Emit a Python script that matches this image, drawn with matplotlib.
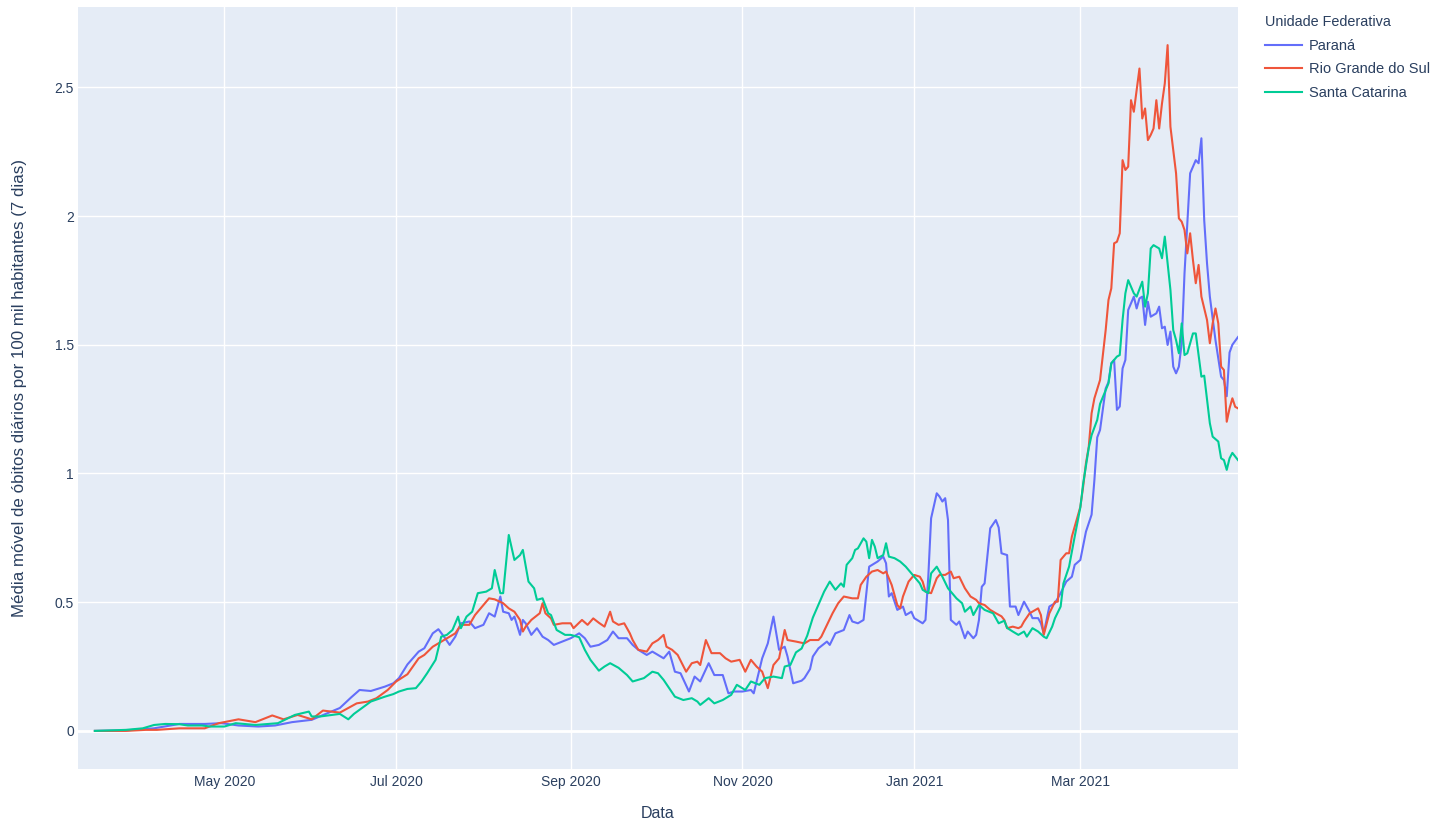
import matplotlib
matplotlib.use("Agg")
import matplotlib.pyplot as plt
import matplotlib.dates as mdates
from matplotlib.ticker import FuncFormatter, FixedLocator
import pandas as pd

plt.rcParams['font.family'] = ['Liberation Sans', 'DejaVu Sans']

# ---------------- data ----------------
pr_dates = ["2020-03-16", "2020-03-27", "2020-04-06", "2020-04-15", "2020-04-24", "2020-04-30",
            "2020-05-06", "2020-05-13", "2020-05-19", "2020-05-25", "2020-06-01", "2020-06-08",
            "2020-06-11", "2020-06-15", "2020-06-18", "2020-06-22", "2020-06-27", "2020-06-30",
            "2020-07-02", "2020-07-05", "2020-07-09", "2020-07-11", "2020-07-14", "2020-07-16",
            "2020-07-18", "2020-07-20", "2020-07-22", "2020-07-24", "2020-07-27", "2020-07-29",
            "2020-08-01", "2020-08-03", "2020-08-05", "2020-08-07", "2020-08-08", "2020-08-10",
            "2020-08-11", "2020-08-12", "2020-08-14", "2020-08-15", "2020-08-16", "2020-08-18",
            "2020-08-20", "2020-08-22", "2020-08-24", "2020-08-26", "2020-08-29", "2020-09-01",
            "2020-09-04", "2020-09-06", "2020-09-08", "2020-09-11", "2020-09-14", "2020-09-16",
            "2020-09-18", "2020-09-21", "2020-09-23", "2020-09-25", "2020-09-28", "2020-09-30",
            "2020-10-02", "2020-10-04", "2020-10-06", "2020-10-08", "2020-10-10", "2020-10-13",
            "2020-10-15", "2020-10-17", "2020-10-20", "2020-10-22", "2020-10-25", "2020-10-27",
            "2020-10-29", "2020-11-01", "2020-11-04", "2020-11-05", "2020-11-08", "2020-11-10",
            "2020-11-12", "2020-11-14", "2020-11-16", "2020-11-17", "2020-11-19", "2020-11-22",
            "2020-11-23", "2020-11-25", "2020-11-26", "2020-11-28", "2020-12-01", "2020-12-02",
            "2020-12-04", "2020-12-07", "2020-12-09", "2020-12-10", "2020-12-12", "2020-12-14",
            "2020-12-15", "2020-12-16", "2020-12-19", "2020-12-21", "2020-12-22", "2020-12-23",
            "2020-12-24", "2020-12-26", "2020-12-28", "2020-12-29", "2020-12-31", "2021-01-01",
            "2021-01-04", "2021-01-05", "2021-01-06", "2021-01-07", "2021-01-09", "2021-01-10",
            "2021-01-11", "2021-01-12", "2021-01-13", "2021-01-14", "2021-01-16", "2021-01-17",
            "2021-01-19", "2021-01-20", "2021-01-22", "2021-01-23", "2021-01-24", "2021-01-25",
            "2021-01-26", "2021-01-28", "2021-01-30", "2021-01-31", "2021-02-01", "2021-02-03",
            "2021-02-04", "2021-02-06", "2021-02-07", "2021-02-09", "2021-02-11", "2021-02-12",
            "2021-02-14", "2021-02-15", "2021-02-16", "2021-02-18", "2021-02-20", "2021-02-22",
            "2021-02-24", "2021-02-26", "2021-02-27", "2021-03-01", "2021-03-03", "2021-03-05",
            "2021-03-06", "2021-03-07", "2021-03-08", "2021-03-10", "2021-03-11", "2021-03-12",
            "2021-03-13", "2021-03-14", "2021-03-15", "2021-03-16", "2021-03-17", "2021-03-18",
            "2021-03-20", "2021-03-21", "2021-03-22", "2021-03-23", "2021-03-24", "2021-03-25",
            "2021-03-26", "2021-03-28", "2021-03-29", "2021-03-30", "2021-03-31", "2021-04-01",
            "2021-04-02", "2021-04-03", "2021-04-04", "2021-04-05", "2021-04-06", "2021-04-07",
            "2021-04-08", "2021-04-09", "2021-04-11", "2021-04-12", "2021-04-13", "2021-04-14",
            "2021-04-15", "2021-04-16", "2021-04-17", "2021-04-18", "2021-04-20", "2021-04-21",
            "2021-04-22", "2021-04-23", "2021-04-24", "2021-04-26"]
pr_values = [0.000, 0.002, 0.010, 0.027, 0.027, 0.030,
             0.021, 0.017, 0.021, 0.034, 0.043, 0.075,
             0.089, 0.130, 0.159, 0.155, 0.172, 0.185,
             0.205, 0.258, 0.308, 0.321, 0.379, 0.395,
             0.366, 0.334, 0.366, 0.418, 0.425, 0.399,
             0.412, 0.457, 0.444, 0.522, 0.463, 0.457,
             0.431, 0.444, 0.373, 0.431, 0.418, 0.373,
             0.399, 0.366, 0.353, 0.334, 0.347, 0.360,
             0.379, 0.360, 0.327, 0.334, 0.353, 0.386,
             0.360, 0.360, 0.334, 0.315, 0.295, 0.308,
             0.295, 0.282, 0.308, 0.230, 0.224, 0.153,
             0.211, 0.192, 0.263, 0.217, 0.217, 0.146,
             0.153, 0.153, 0.159, 0.146, 0.282, 0.340,
             0.444, 0.315, 0.327, 0.289, 0.185, 0.195,
             0.205, 0.240, 0.289, 0.321, 0.347, 0.334,
             0.379, 0.392, 0.450, 0.425, 0.418, 0.431,
             0.535, 0.638, 0.658, 0.677, 0.651, 0.522,
             0.535, 0.470, 0.483, 0.450, 0.463, 0.438,
             0.418, 0.431, 0.599, 0.826, 0.923, 0.910,
             0.891, 0.904, 0.819, 0.431, 0.412, 0.425,
             0.360, 0.386, 0.360, 0.373, 0.431, 0.560,
             0.573, 0.787, 0.819, 0.790, 0.690, 0.683,
             0.483, 0.483, 0.450, 0.502, 0.463, 0.438,
             0.438, 0.418, 0.379, 0.483, 0.496, 0.535,
             0.580, 0.599, 0.645, 0.664, 0.774, 0.840,
             0.975, 1.140, 1.169, 1.330, 1.355, 1.428,
             1.441, 1.247, 1.260, 1.408, 1.441, 1.635,
             1.687, 1.641, 1.680, 1.687, 1.577, 1.667,
             1.609, 1.622, 1.648, 1.564, 1.570, 1.499,
             1.551, 1.415, 1.389, 1.415, 1.506, 1.777,
             1.972, 2.166, 2.217, 2.205, 2.302, 1.984,
             1.816, 1.687, 1.603, 1.518, 1.376, 1.363,
             1.300, 1.470, 1.500, 1.530]

rs_dates = ["2020-03-16", "2020-03-27", "2020-04-03", "2020-04-07", "2020-04-15", "2020-04-24",
            "2020-04-29", "2020-05-06", "2020-05-12", "2020-05-18", "2020-05-22", "2020-05-27",
            "2020-06-01", "2020-06-05", "2020-06-11", "2020-06-17", "2020-06-21", "2020-06-24",
            "2020-06-28", "2020-07-01", "2020-07-05", "2020-07-09", "2020-07-11", "2020-07-14",
            "2020-07-16", "2020-07-19", "2020-07-22", "2020-07-24", "2020-07-27", "2020-07-29",
            "2020-08-01", "2020-08-03", "2020-08-05", "2020-08-08", "2020-08-10", "2020-08-12",
            "2020-08-14", "2020-08-15", "2020-08-16", "2020-08-18", "2020-08-21", "2020-08-22",
            "2020-08-23", "2020-08-25", "2020-08-26", "2020-08-29", "2020-09-01", "2020-09-02",
            "2020-09-05", "2020-09-07", "2020-09-09", "2020-09-11", "2020-09-13", "2020-09-15",
            "2020-09-16", "2020-09-18", "2020-09-20", "2020-09-22", "2020-09-23", "2020-09-25",
            "2020-09-28", "2020-09-30", "2020-10-02", "2020-10-04", "2020-10-05", "2020-10-07",
            "2020-10-09", "2020-10-12", "2020-10-14", "2020-10-16", "2020-10-17", "2020-10-19",
            "2020-10-21", "2020-10-24", "2020-10-26", "2020-10-28", "2020-10-31", "2020-11-02",
            "2020-11-04", "2020-11-06", "2020-11-08", "2020-11-10", "2020-11-12", "2020-11-14",
            "2020-11-16", "2020-11-17", "2020-11-20", "2020-11-23", "2020-11-25", "2020-11-28",
            "2020-11-29", "2020-12-01", "2020-12-03", "2020-12-05", "2020-12-07", "2020-12-10",
            "2020-12-12", "2020-12-13", "2020-12-15", "2020-12-17", "2020-12-19", "2020-12-21",
            "2020-12-22", "2020-12-24", "2020-12-26", "2020-12-27", "2020-12-28", "2020-12-30",
            "2021-01-01", "2021-01-03", "2021-01-04", "2021-01-05", "2021-01-07", "2021-01-09",
            "2021-01-10", "2021-01-12", "2021-01-14", "2021-01-15", "2021-01-17", "2021-01-19",
            "2021-01-21", "2021-01-23", "2021-01-24", "2021-01-26", "2021-01-28", "2021-01-30",
            "2021-02-01", "2021-02-02", "2021-02-03", "2021-02-05", "2021-02-07", "2021-02-08",
            "2021-02-09", "2021-02-11", "2021-02-13", "2021-02-14", "2021-02-15", "2021-02-16",
            "2021-02-18", "2021-02-20", "2021-02-21", "2021-02-22", "2021-02-24", "2021-02-25",
            "2021-02-26", "2021-02-28", "2021-03-01", "2021-03-02", "2021-03-03", "2021-03-04",
            "2021-03-05", "2021-03-06", "2021-03-08", "2021-03-10", "2021-03-11", "2021-03-12",
            "2021-03-13", "2021-03-14", "2021-03-15", "2021-03-16", "2021-03-17", "2021-03-18",
            "2021-03-19", "2021-03-20", "2021-03-22", "2021-03-23", "2021-03-24", "2021-03-25",
            "2021-03-26", "2021-03-27", "2021-03-28", "2021-03-29", "2021-03-30", "2021-03-31",
            "2021-04-01", "2021-04-02", "2021-04-04", "2021-04-05", "2021-04-06", "2021-04-07",
            "2021-04-08", "2021-04-09", "2021-04-10", "2021-04-11", "2021-04-12", "2021-04-13",
            "2021-04-15", "2021-04-16", "2021-04-17", "2021-04-18", "2021-04-19", "2021-04-20",
            "2021-04-21", "2021-04-22", "2021-04-23", "2021-04-24", "2021-04-25", "2021-04-26"]
rs_values = [0.000, 0.000, 0.004, 0.004, 0.010, 0.010,
             0.030, 0.045, 0.034, 0.060, 0.045, 0.062,
             0.045, 0.079, 0.071, 0.107, 0.114, 0.127,
             0.159, 0.192, 0.220, 0.282, 0.295, 0.327,
             0.340, 0.360, 0.379, 0.412, 0.412, 0.450,
             0.489, 0.515, 0.511, 0.496, 0.476, 0.463,
             0.431, 0.386, 0.405, 0.431, 0.457, 0.496,
             0.457, 0.437, 0.412, 0.418, 0.418, 0.399,
             0.431, 0.412, 0.437, 0.420, 0.405, 0.463,
             0.425, 0.412, 0.418, 0.379, 0.353, 0.315,
             0.308, 0.340, 0.353, 0.373, 0.327, 0.315,
             0.295, 0.230, 0.263, 0.269, 0.256, 0.353,
             0.302, 0.302, 0.282, 0.269, 0.276, 0.230,
             0.276, 0.250, 0.230, 0.166, 0.256, 0.282,
             0.392, 0.353, 0.347, 0.340, 0.353, 0.353,
             0.366, 0.412, 0.457, 0.496, 0.522, 0.515,
             0.515, 0.567, 0.599, 0.619, 0.625, 0.612,
             0.619, 0.567, 0.489, 0.476, 0.522, 0.580,
             0.606, 0.599, 0.580, 0.541, 0.535, 0.593,
             0.606, 0.606, 0.619, 0.593, 0.599, 0.554,
             0.522, 0.509, 0.496, 0.489, 0.470, 0.457,
             0.445, 0.431, 0.399, 0.405, 0.399, 0.405,
             0.425, 0.457, 0.470, 0.476, 0.450, 0.373,
             0.457, 0.502, 0.502, 0.664, 0.690, 0.690,
             0.755, 0.832, 0.870, 0.949, 1.040, 1.104,
             1.234, 1.292, 1.363, 1.557, 1.674, 1.719,
             1.894, 1.900, 1.933, 2.217, 2.179, 2.192,
             2.450, 2.405, 2.573, 2.379, 2.418, 2.295,
             2.315, 2.340, 2.450, 2.340, 2.437, 2.515,
             2.664, 2.347, 2.166, 1.991, 1.978, 1.946,
             1.855, 1.933, 1.829, 1.739, 1.810, 1.687,
             1.596, 1.506, 1.583, 1.641, 1.583, 1.415,
             1.402, 1.201, 1.253, 1.292, 1.259, 1.253]

sc_dates = ["2020-03-16", "2020-03-27", "2020-04-02", "2020-04-06", "2020-04-10", "2020-04-15",
            "2020-04-18", "2020-04-23", "2020-04-26", "2020-05-01", "2020-05-05", "2020-05-12",
            "2020-05-20", "2020-05-26", "2020-05-31", "2020-06-01", "2020-06-04", "2020-06-11",
            "2020-06-14", "2020-06-16", "2020-06-22", "2020-06-27", "2020-06-30", "2020-07-02",
            "2020-07-05", "2020-07-08", "2020-07-10", "2020-07-12", "2020-07-15", "2020-07-17",
            "2020-07-19", "2020-07-21", "2020-07-23", "2020-07-24", "2020-07-26", "2020-07-28",
            "2020-07-30", "2020-08-02", "2020-08-04", "2020-08-05", "2020-08-07", "2020-08-08",
            "2020-08-10", "2020-08-12", "2020-08-14", "2020-08-15", "2020-08-17", "2020-08-19",
            "2020-08-20", "2020-08-22", "2020-08-24", "2020-08-25", "2020-08-27", "2020-08-30",
            "2020-09-01", "2020-09-04", "2020-09-06", "2020-09-08", "2020-09-11", "2020-09-13",
            "2020-09-15", "2020-09-18", "2020-09-21", "2020-09-23", "2020-09-27", "2020-09-30",
            "2020-10-02", "2020-10-04", "2020-10-08", "2020-10-11", "2020-10-14", "2020-10-16",
            "2020-10-17", "2020-10-20", "2020-10-22", "2020-10-25", "2020-10-28", "2020-10-30",
            "2020-11-02", "2020-11-04", "2020-11-07", "2020-11-09", "2020-11-12", "2020-11-15",
            "2020-11-16", "2020-11-18", "2020-11-20", "2020-11-22", "2020-11-24", "2020-11-26",
            "2020-11-28", "2020-11-30", "2020-12-02", "2020-12-04", "2020-12-06", "2020-12-07",
            "2020-12-08", "2020-12-10", "2020-12-11", "2020-12-12", "2020-12-14", "2020-12-15",
            "2020-12-16", "2020-12-17", "2020-12-18", "2020-12-19", "2020-12-21", "2020-12-22",
            "2020-12-23", "2020-12-25", "2020-12-27", "2020-12-29", "2020-12-31", "2021-01-03",
            "2021-01-04", "2021-01-06", "2021-01-07", "2021-01-09", "2021-01-11", "2021-01-13",
            "2021-01-16", "2021-01-18", "2021-01-19", "2021-01-21", "2021-01-22", "2021-01-24",
            "2021-01-26", "2021-01-29", "2021-01-31", "2021-02-02", "2021-02-03", "2021-02-05",
            "2021-02-07", "2021-02-09", "2021-02-10", "2021-02-12", "2021-02-14", "2021-02-16",
            "2021-02-17", "2021-02-19", "2021-02-20", "2021-02-22", "2021-02-23", "2021-02-25",
            "2021-02-27", "2021-03-01", "2021-03-02", "2021-03-03", "2021-03-04", "2021-03-05",
            "2021-03-07", "2021-03-08", "2021-03-10", "2021-03-11", "2021-03-12", "2021-03-14",
            "2021-03-15", "2021-03-16", "2021-03-17", "2021-03-18", "2021-03-20", "2021-03-21",
            "2021-03-23", "2021-03-24", "2021-03-25", "2021-03-26", "2021-03-27", "2021-03-29",
            "2021-03-30", "2021-03-31", "2021-04-02", "2021-04-03", "2021-04-04", "2021-04-05",
            "2021-04-06", "2021-04-07", "2021-04-08", "2021-04-10", "2021-04-11", "2021-04-13",
            "2021-04-14", "2021-04-16", "2021-04-17", "2021-04-19", "2021-04-20", "2021-04-21",
            "2021-04-22", "2021-04-23", "2021-04-24", "2021-04-26"]
sc_values = [0.000, 0.004, 0.010, 0.023, 0.027, 0.026,
             0.021, 0.021, 0.017, 0.017, 0.030, 0.023,
             0.030, 0.062, 0.075, 0.056, 0.056, 0.066,
             0.045, 0.066, 0.114, 0.133, 0.143, 0.153,
             0.163, 0.166, 0.192, 0.224, 0.276, 0.366,
             0.373, 0.392, 0.444, 0.399, 0.444, 0.463,
             0.535, 0.541, 0.554, 0.625, 0.535, 0.535,
             0.761, 0.664, 0.683, 0.703, 0.580, 0.554,
             0.509, 0.515, 0.457, 0.450, 0.392, 0.373,
             0.373, 0.364, 0.315, 0.276, 0.234, 0.250,
             0.263, 0.245, 0.217, 0.192, 0.205, 0.230,
             0.224, 0.198, 0.133, 0.120, 0.127, 0.114,
             0.101, 0.127, 0.107, 0.120, 0.140, 0.179,
             0.159, 0.192, 0.179, 0.205, 0.211, 0.205,
             0.250, 0.256, 0.305, 0.320, 0.370, 0.440,
             0.490, 0.541, 0.580, 0.548, 0.573, 0.560,
             0.645, 0.671, 0.703, 0.709, 0.748, 0.735,
             0.671, 0.742, 0.716, 0.671, 0.683, 0.729,
             0.677, 0.671, 0.658, 0.638, 0.612, 0.573,
             0.548, 0.535, 0.612, 0.638, 0.599, 0.554,
             0.515, 0.496, 0.463, 0.483, 0.450, 0.489,
             0.470, 0.457, 0.418, 0.428, 0.400, 0.386,
             0.373, 0.386, 0.366, 0.399, 0.386, 0.366,
             0.360, 0.405, 0.438, 0.483, 0.573, 0.638,
             0.755, 0.868, 0.960, 1.030, 1.100, 1.149,
             1.208, 1.270, 1.324, 1.350, 1.428, 1.454,
             1.460, 1.596, 1.700, 1.751, 1.700, 1.687,
             1.745, 1.648, 1.700, 1.874, 1.887, 1.874,
             1.836, 1.920, 1.713, 1.557, 1.518, 1.467,
             1.583, 1.460, 1.467, 1.544, 1.544, 1.376,
             1.380, 1.195, 1.143, 1.124, 1.059, 1.052,
             1.014, 1.059, 1.080, 1.052]

series_names = ["Paraná", "Rio Grande do Sul", "Santa Catarina"]
series_dates = [pr_dates, rs_dates, sc_dates]
series_values = [pr_values, rs_values, sc_values]
series_colors = ["#636EFA", "#EF553B", "#00CC96"]

x_tick_dates = ["2020-05-01", "2020-07-01", "2020-09-01", "2020-11-01", "2021-01-01", "2021-03-01"]
y_ticks = [0, 0.5, 1, 1.5, 2, 2.5]

# ---------------- figure ----------------
W, H = 1436, 823
fig = plt.figure(figsize=(W / 100, H / 100), dpi=100)
ax = fig.add_axes([78 / W, 1 - 769 / H, 1160 / W, 762 / H])
ax.set_facecolor("#E5ECF6")
for s in ax.spines.values():
    s.set_visible(False)

text_color = "#2a3f5f"

ax.set_axisbelow(True)
ax.grid(True, color="white", linewidth=1.0)
ax.axhline(0, color="white", linewidth=2.0, zorder=1)

handles = []
for name, d, v, c in zip(series_names, series_dates, series_values, series_colors):
    h, = ax.plot(pd.to_datetime(d), v, color=c, linewidth=1.5, label=name,
                 solid_joinstyle="round", zorder=3)
    handles.append(h)

ax.set_xlim(pd.Timestamp("2020-03-10"), pd.Timestamp("2021-04-26"))
ax.set_ylim(-0.148, 2.812)

ax.xaxis.set_major_locator(FixedLocator(mdates.date2num(pd.to_datetime(x_tick_dates))))
ax.xaxis.set_major_formatter(mdates.DateFormatter("%b %Y"))
ax.yaxis.set_major_locator(FixedLocator(y_ticks))
ax.yaxis.set_major_formatter(FuncFormatter(lambda v, p: f"{v:g}"))
ax.tick_params(axis="both", length=0, labelsize=10, labelcolor=text_color)
ax.tick_params(axis="x", pad=4)
ax.tick_params(axis="y", pad=3)

fig.text(20 / W, 1 - 388 / H, "Média móvel de óbitos diários por 100 mil habitantes (7 dias)",
         rotation=90, ha="center", va="center", fontsize=12.2, color=text_color)
fig.text(658 / W, 1 - 813 / H, "Data", ha="center", va="center", fontsize=11.5, color=text_color)

leg = ax.legend(handles=handles, loc="upper left", bbox_to_anchor=(1265 / W, 1 - 15 / H),
                bbox_transform=fig.transFigure, frameon=False, title="Unidade Federativa",
                alignment="left", fontsize=10.5, title_fontsize=10.4, borderpad=0,
                borderaxespad=0, handlelength=2.55, handletextpad=0.45, labelspacing=0.66)
for t in leg.get_texts():
    t.set_color(text_color)
leg.get_title().set_color(text_color)

fig.savefig("out.png", dpi=100, facecolor="white")
